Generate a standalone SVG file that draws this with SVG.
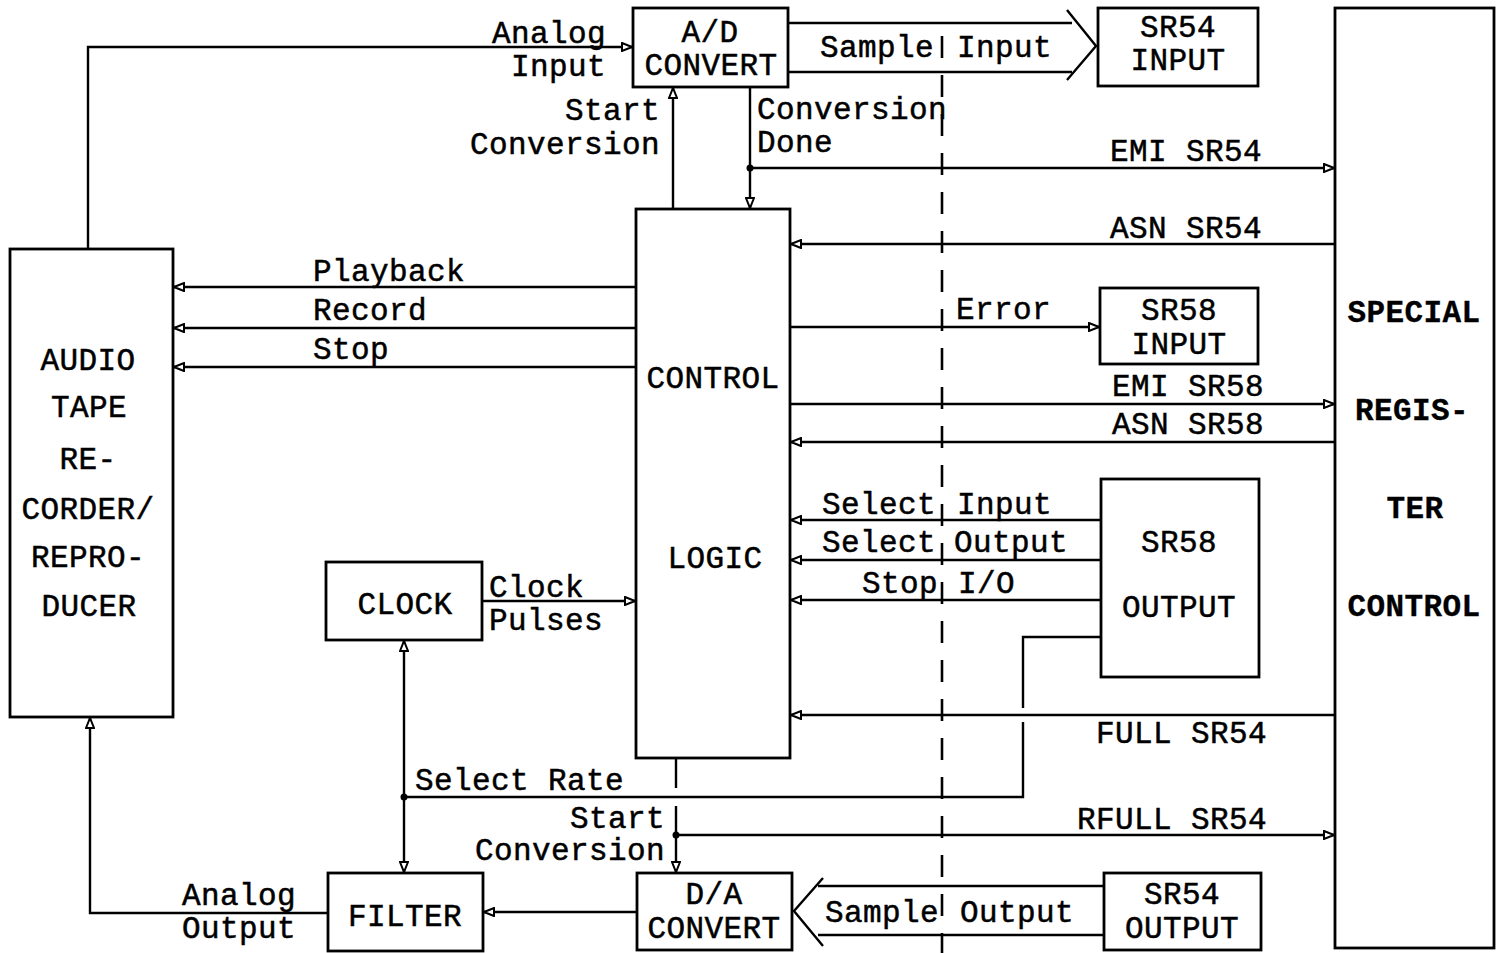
<svg xmlns="http://www.w3.org/2000/svg" width="1497" height="953" viewBox="0 0 1497 953">
<defs>
<style>
.box{fill:#fff;stroke:#000;stroke-width:2.8}
.ln{fill:none;stroke:#000;stroke-width:2.4}
.ar{fill:none;stroke:#000;stroke-width:2.4;marker-end:url(#arr)}
.dash{fill:none;stroke:#000;stroke-width:2.6;stroke-dasharray:22 17}
text{font-family:"Liberation Mono","Courier New",monospace;font-size:31px;letter-spacing:0.4px;fill:#000;stroke:#000;stroke-width:0.5}
.c{text-anchor:middle}
.r{text-anchor:end}
.b{font-weight:bold;stroke-width:0.3}
</style>
<marker id="arr" viewBox="0 0 12 10" refX="11" refY="5" markerWidth="12" markerHeight="10" markerUnits="userSpaceOnUse" orient="auto">
<path d="M1,1 L11,5 L1,9 Z" fill="#fff" stroke="#000" stroke-width="2"/>
</marker>
<marker id="arrs" viewBox="0 0 12 10" refX="11" refY="5" markerWidth="12" markerHeight="10" markerUnits="userSpaceOnUse" orient="auto-start-reverse">
<path d="M1,1 L11,5 L1,9 Z" fill="#fff" stroke="#000" stroke-width="2"/>
</marker>
</defs>
<rect width="1497" height="953" fill="#fff"/>

<g id="connectors">
<line class="dash" x1="942" y1="36" x2="942" y2="953"/>
<polyline class="ar" points="88,249 88,47 632,47"/>
<line class="ln" x1="788" y1="23" x2="1072" y2="23"/>
<line class="ln" x1="788" y1="72" x2="1072" y2="72"/>
<polyline class="ln" points="1067,10 1096,46 1067,80"/>
<line class="ar" x1="673" y1="209" x2="673" y2="88"/>
<line class="ar" x1="750" y1="87" x2="750" y2="208"/>
<line class="ar" x1="750" y1="168" x2="1334" y2="168"/>
<line class="ar" x1="1335" y1="244" x2="791" y2="244"/>
<line class="ar" x1="636" y1="287" x2="174" y2="287"/>
<line class="ar" x1="636" y1="328" x2="174" y2="328"/>
<line class="ar" x1="636" y1="367" x2="174" y2="367"/>
<line class="ar" x1="790" y1="327" x2="1099" y2="327"/>
<line class="ar" x1="790" y1="404" x2="1334" y2="404"/>
<line class="ar" x1="1335" y1="442" x2="791" y2="442"/>
<line class="ar" x1="1101" y1="520" x2="791" y2="520"/>
<line class="ar" x1="1101" y1="560" x2="791" y2="560"/>
<line class="ar" x1="1101" y1="600" x2="791" y2="600"/>
<line class="ar" x1="1335" y1="715" x2="791" y2="715"/>
<polyline class="ln" points="1101,637 1023,637 1023,708"/>
<polyline class="ln" points="1023,722 1023,797 404,797"/>
<line class="ln" x1="404" y1="641" x2="404" y2="872" marker-start="url(#arrs)" marker-end="url(#arrs)"/>
<line class="ar" x1="482" y1="601" x2="635" y2="601"/>
<line class="ln" x1="676" y1="758" x2="676" y2="788"/>
<line class="ar" x1="676" y1="806" x2="676" y2="872"/>
<line class="ar" x1="676" y1="835" x2="1334" y2="835"/>
<line class="ar" x1="637" y1="912" x2="484" y2="912"/>
<polyline class="ar" points="328,913 90,913 90,718"/>
<line class="ln" x1="1104" y1="886" x2="818" y2="886"/>
<line class="ln" x1="1104" y1="935" x2="818" y2="935"/>
<polyline class="ln" points="823,878 794,911 823,946"/>
<circle cx="750" cy="168" r="3.5"/>
<circle cx="404" cy="797" r="3.5"/>
<circle cx="676" cy="835" r="3.5"/>
</g>

<g id="labels">
<text class="r" x="606" y="43">Analog</text>
<text class="r" x="606" y="76">Input</text>
<text x="820" y="57">Sample</text>
<text x="957" y="57">Input</text>
<text class="r" x="660" y="120">Start</text>
<text class="r" x="660" y="154">Conversion</text>
<text x="757" y="119">Conversion</text>
<text x="757" y="152">Done</text>
<text x="1110" y="161">EMI SR54</text>
<text x="1110" y="238">ASN SR54</text>
<text x="313" y="281">Playback</text>
<text x="313" y="320">Record</text>
<text x="313" y="359">Stop</text>
<text x="956" y="319">Error</text>
<text x="1112" y="396">EMI SR58</text>
<text x="1112" y="434">ASN SR58</text>
<text x="822" y="514">Select</text>
<text x="957" y="514">Input</text>
<text x="822" y="552">Select</text>
<text x="954" y="552">Output</text>
<text x="862" y="593">Stop</text>
<text x="958" y="593">I/O</text>
<text x="489" y="597">Clock</text>
<text x="489" y="630">Pulses</text>
<text x="1096" y="743">FULL SR54</text>
<text x="415" y="790">Select Rate</text>
<text class="r" x="665" y="828">Start</text>
<text class="r" x="665" y="860">Conversion</text>
<text x="1077" y="829">RFULL SR54</text>
<text x="182" y="905">Analog</text>
<text x="182" y="938">Output</text>
<text x="825" y="922">Sample</text>
<text x="960" y="922">Output</text>
</g>

<g id="ad-convert">
<rect class="box" x="633" y="8" width="155" height="79"/>
<text class="c" x="710" y="42">A/D</text>
<text class="c" x="711" y="75">CONVERT</text>
</g>
<g id="sr54-input">
<rect class="box" x="1098" y="8" width="160" height="78"/>
<text class="c" x="1178" y="37">SR54</text>
<text class="c" x="1178" y="70">INPUT</text>
</g>
<g id="special-register-control">
<rect class="box" x="1335" y="8" width="159" height="940"/>
<text class="c b" x="1414" y="322">SPECIAL</text>
<text class="c b" x="1412" y="420">REGIS-</text>
<text class="c b" x="1415" y="518">TER</text>
<text class="c b" x="1414" y="616">CONTROL</text>
</g>
<g id="control-logic">
<rect class="box" x="636" y="209" width="154" height="549"/>
<text class="c" x="713" y="388">CONTROL</text>
<text class="c" x="715" y="568">LOGIC</text>
</g>
<g id="audio-tape">
<rect class="box" x="10" y="249" width="163" height="468"/>
<text class="c" x="88" y="370">AUDIO</text>
<text class="c" x="89" y="417">TAPE</text>
<text class="c" x="88" y="469">RE-</text>
<text class="c" x="88" y="519">CORDER/</text>
<text class="c" x="88" y="567">REPRO-</text>
<text class="c" x="89" y="616">DUCER</text>
</g>
<g id="sr58-input">
<rect class="box" x="1100" y="288" width="158" height="76"/>
<text class="c" x="1179" y="320">SR58</text>
<text class="c" x="1179" y="354">INPUT</text>
</g>
<g id="sr58-output">
<rect class="box" x="1101" y="479" width="158" height="198"/>
<text class="c" x="1179" y="552">SR58</text>
<text class="c" x="1179" y="617">OUTPUT</text>
</g>
<g id="clock">
<rect class="box" x="326" y="562" width="156" height="78"/>
<text class="c" x="405" y="614">CLOCK</text>
</g>
<g id="filter">
<rect class="box" x="328" y="873" width="155" height="78"/>
<text class="c" x="405" y="926">FILTER</text>
</g>
<g id="da-convert">
<rect class="box" x="637" y="873" width="155" height="77"/>
<text class="c" x="714" y="904">D/A</text>
<text class="c" x="714" y="938">CONVERT</text>
</g>
<g id="sr54-output">
<rect class="box" x="1104" y="873" width="157" height="77"/>
<text class="c" x="1182" y="904">SR54</text>
<text class="c" x="1182" y="938">OUTPUT</text>
</g>
</svg>
